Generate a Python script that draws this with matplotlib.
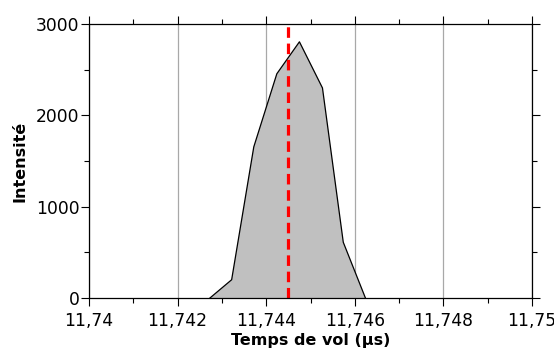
import matplotlib
matplotlib.use('Agg')
import matplotlib.pyplot as plt
import matplotlib.ticker as mtick

# peak profile
tof = [11.74273, 11.74322, 11.74372, 11.74424, 11.74475, 11.74527, 11.74574, 11.74624]
intensity = [0, 200, 1655, 2455, 2805, 2300, 610, 0]
mean_tof = 11.7445

x_ticks = [11.740, 11.742, 11.744, 11.746, 11.748, 11.750]
y_ticks = [0, 1000, 2000, 3000]

plt.rcParams['font.family'] = 'DejaVu Sans'

fig = plt.figure(figsize=(5.54, 3.49), dpi=100)
ax = fig.add_axes([89/554, 1 - 298/349, (532 - 89)/554, (298 - 24)/349])

ax.fill(tof, intensity, color='#c0c0c0', linewidth=0, zorder=2)
ax.plot(tof, intensity, color='black', linewidth=0.9, zorder=3)
ax.axvline(mean_tof, color='#ff0000', linewidth=2.3, linestyle=(0, (3.3, 1.8)), zorder=4)

ax.set_xlim(11.740, 11.750)
ax.set_ylim(0, 3000)
ax.set_xticks(x_ticks)
ax.set_yticks(y_ticks)
ax.xaxis.set_minor_locator(mtick.MultipleLocator(0.001))
ax.yaxis.set_minor_locator(mtick.MultipleLocator(500))

def fr_fmt(v, pos):
    s = '{:.3f}'.format(v).rstrip('0').rstrip('.')
    return s.replace('.', ',')

ax.xaxis.set_major_formatter(mtick.FuncFormatter(fr_fmt))

ax.grid(axis='x', which='major', color='#a8a8a8', linewidth=0.9, zorder=1)
ax.set_axisbelow(True)

ax.tick_params(which='both', direction='out', top=True, right=True, width=0.8, colors='black', labelsize=12.3)
ax.tick_params(which='major', length=6)
ax.tick_params(axis='x', which='major', pad=4)
ax.tick_params(axis='y', which='major', pad=1)
ax.tick_params(which='minor', length=3.5)
for sp in ax.spines.values():
    sp.set_linewidth(0.9)
    sp.set_zorder(5)

ax.set_xlabel('Temps de vol (µs)', fontsize=11.5, fontweight='bold', labelpad=2)
ax.set_ylabel('Intensité', fontsize=11.5, fontweight='bold', labelpad=6)

plt.savefig('out.png', dpi=100)
plt.close()
